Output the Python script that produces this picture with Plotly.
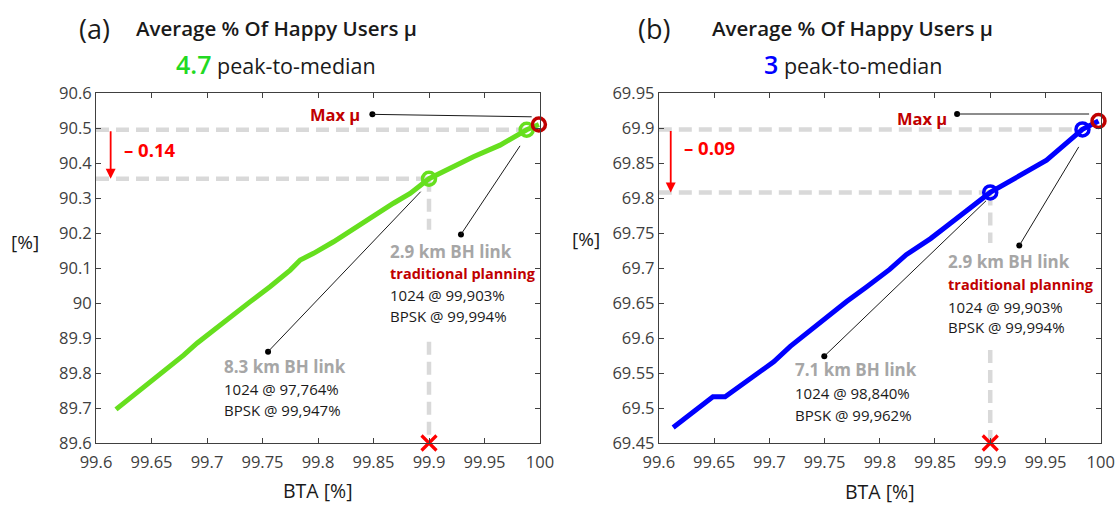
import plotly.graph_objects as go

W, H = 1119, 505
FONT = "Open Sans"

# ---- data -------------------------------------------------------------
# (a) average % of happy users vs BTA
bta_a = [99.618, 99.640, 99.659, 99.679, 99.691, 99.706, 99.724, 99.739, 99.757,
         99.775, 99.784, 99.796, 99.814, 99.832, 99.850, 99.868, 99.883, 99.900,
         99.940, 99.964, 99.988, 99.999]
mu_a = [89.696, 89.751, 89.799, 89.851, 89.885, 89.923, 89.966, 90.004, 90.047,
        90.094, 90.123, 90.142, 90.175, 90.213, 90.247, 90.285, 90.313, 90.355,
        90.418, 90.451, 90.495, 90.510]

# (b) average % of happy users vs BTA
bta_b = [99.613, 99.631, 99.649, 99.660, 99.669, 99.686, 99.704, 99.719, 99.734,
         99.752, 99.770, 99.788, 99.809, 99.824, 99.846, 99.864, 99.882, 99.900,
         99.951, 99.9835, 99.998]
mu_b = [69.472, 69.493, 69.516, 69.516, 69.526, 69.545, 69.566, 69.588, 69.607,
        69.630, 69.652, 69.673, 69.698, 69.719, 69.742, 69.764, 69.785, 69.808,
        69.854, 69.898, 69.910]

# highlighted operating points: (BTA, mu)
peak_a, trad_a, sel_a = (99.999, 90.510), (99.988, 90.495), (99.900, 90.355)
peak_b, trad_b, sel_b = (99.998, 69.910), (99.9835, 69.898), (99.900, 69.808)

peak_to_median = ["4.7", "3"]
sel_label_a = ["8.3 km BH link", "1024 @ 97,764%", "BPSK @ 99,947%"]
sel_label_b = ["7.1 km BH link", "1024 @ 98,840%", "BPSK @ 99,962%"]
trad_label = ["2.9 km BH link", "traditional planning", "1024 @ 99,903%", "BPSK @ 99,994%"]

x_ticks = [99.6, 99.65, 99.7, 99.75, 99.8, 99.85, 99.9, 99.95, 100]
x_ticktext = ["99.6", "99.65", "99.7", "99.75", "99.8", "99.85", "99.9", "99.95", "100"]
y_ticks_a = [89.6, 89.7, 89.8, 89.9, 90.0, 90.1, 90.2, 90.3, 90.4, 90.5, 90.6]
y_ticktext_a = ["89.6", "89.7", "89.8", "89.9", "90", "90.1", "90.2", "90.3", "90.4", "90.5", "90.6"]
y_ticks_b = [69.45, 69.5, 69.55, 69.6, 69.65, 69.7, 69.75, 69.8, 69.85, 69.9, 69.95]
y_ticktext_b = ["69.45", "69.5", "69.55", "69.6", "69.65", "69.7", "69.75", "69.8", "69.85", "69.9", "69.95"]

# ---- styles -----------------------------------------------------------
GREEN = "#66DF1E"
GREEN_TXT = "#22D922"
BLUE = "#0000FF"
DARKRED = "#C00000"
RED = "#FF0000"
GREY_TXT = "#A6A6A6"
DASH_COL = "#D9D9D9"
AXIS_COL = "#404040"
INK = "#1A1A1A"

fig = go.Figure()


def px2paper(px, py):
    return px / W, 1 - py / H


def add_panel(xs, ys, peak, trad, sel, color, xa, ya):
    fig.add_trace(go.Scatter(x=xs, y=ys, mode="lines", xaxis=xa, yaxis=ya,
                             line=dict(color=color, width=5), hoverinfo="skip"))
    fig.add_trace(go.Scatter(x=[trad[0], sel[0]], y=[trad[1], sel[1]], mode="markers",
                             xaxis=xa, yaxis=ya, hoverinfo="skip",
                             marker=dict(symbol="circle-open", size=13, color=color,
                                         line=dict(width=3.5, color=color))))
    fig.add_trace(go.Scatter(x=[peak[0]], y=[peak[1]], mode="markers", xaxis=xa, yaxis=ya,
                             hoverinfo="skip", cliponaxis=False,
                             marker=dict(symbol="circle-open", size=13, color=DARKRED,
                                         line=dict(width=3.5, color=DARKRED))))


def dashed(xa, ya, x0, y0, x1, y1):
    fig.add_shape(type="line", xref=xa, yref=ya, x0=x0, y0=y0, x1=x1, y1=y1,
                  layer="below", line=dict(color=DASH_COL, width=4.5, dash="13px,7px"))


def leader(xa, ya, x0, y0, x1, y1):
    fig.add_shape(type="line", xref=xa, yref=ya, x0=x0, y0=y0, x1=x1, y1=y1,
                  line=dict(color=INK, width=1))
    fig.add_trace(go.Scatter(x=[x0], y=[y0], mode="markers", xaxis=xa, yaxis=ya,
                             hoverinfo="skip", marker=dict(size=6, color="black")))


def label(xa, ya, x, y, text, size, color, bold=False, xanchor="left"):
    fig.add_annotation(xref=xa, yref=ya, x=x, y=y, text=text, showarrow=False,
                       xanchor=xanchor, yanchor="middle",
                       font=dict(family=FONT, size=size, color=color,
                                 weight="bold" if bold else "normal"))


def text_block(xa, ya, x, ys, lines, colors, bolds, sizes):
    for yy, t, c, b, s in zip(ys, lines, colors, bolds, sizes):
        label(xa, ya, x, yy, t, s, c, b)


# ---- panel (a) --------------------------------------------------------
dashed("x", "y", 99.6, trad_a[1], trad_a[0], trad_a[1])
dashed("x", "y", 99.6, sel_a[1], sel_a[0], sel_a[1])
dashed("x", "y", sel_a[0], sel_a[1], sel_a[0], 90.209)
dashed("x", "y", sel_a[0], 89.889, sel_a[0], 89.6)
add_panel(bta_a, mu_a, peak_a, trad_a, sel_a, GREEN, "x", "y")
leader("x", "y", 99.849, 90.539, 99.9925, 90.532)
leader("x", "y", 99.9288, 90.196, 99.982, 90.449)
leader("x", "y", 99.755, 89.861, 99.8925, 90.318)

# ---- panel (b) --------------------------------------------------------
dashed("x2", "y2", 99.6, trad_b[1], trad_b[0], trad_b[1])
dashed("x2", "y2", 99.6, sel_b[1], sel_b[0], sel_b[1])
dashed("x2", "y2", sel_b[0], sel_b[1], sel_b[0], 69.7357)
dashed("x2", "y2", sel_b[0], 69.5829, sel_b[0], 69.45)
add_panel(bta_b, mu_b, peak_b, trad_b, sel_b, BLUE, "x2", "y2")
leader("x2", "y2", 99.870, 69.920, 99.9895, 69.920)
leader("x2", "y2", 99.9263, 69.732, 99.9801, 69.873)
leader("x2", "y2", 99.7498, 69.574, 99.8962, 69.796)

# red crosses at BTA = 99.9 on the x axis
for xa, ya, y0 in (("x", "y", 89.6), ("x2", "y2", 69.45)):
    fig.add_trace(go.Scatter(x=[99.9], y=[y0], mode="markers", xaxis=xa, yaxis=ya,
                             cliponaxis=False, hoverinfo="skip",
                             marker=dict(symbol="x-thin", size=15,
                                         line=dict(width=3.2, color=RED))))

# ---- annotations ------------------------------------------------------
trad_colors = [GREY_TXT, DARKRED, INK, INK]
trad_bolds = [True, True, False, False]
trad_sizes = [17, 14.5, 15, 15]
sel_colors = [GREY_TXT, INK, INK]
sel_bolds = [True, False, False]
sel_sizes = [17, 15, 15]

text_block("x", "y", 99.8633, [90.1466, 90.0849, 90.0229, 89.9629],
           trad_label, trad_colors, trad_bolds, trad_sizes)
text_block("x", "y", 99.7132, [89.82, 89.7534, 89.6943],
           sel_label_a, sel_colors, sel_bolds, sel_sizes)
text_block("x2", "y2", 99.860, [69.709, 69.6767, 69.6447, 69.6161],
           trad_label, trad_colors, trad_bolds, trad_sizes)
text_block("x2", "y2", 99.7217, [69.5543, 69.521, 69.490],
           sel_label_b, sel_colors, sel_bolds, sel_sizes)

label("x", "y", 99.8394, 90.539, "Max μ", 16.5, DARKRED, True, "right")
label("x2", "y2", 99.863, 69.9139, "Max μ", 16.5, DARKRED, True, "right")

# drop from traditional planning to the selected point
for xa, ya, xarr, top, bot, xt, yt in (
        ("x", "y", 99.6132, trad_a[1], sel_a[1], 99.6232, 90.439),
        ("x2", "y2", 99.6108, trad_b[1], sel_b[1], 99.6207, 69.8724)):
    fig.add_annotation(xref=xa, yref=ya, axref=xa, ayref=ya, x=xarr, y=bot,
                       ax=xarr, ay=top, showarrow=True, arrowhead=2, arrowsize=1.1,
                       arrowwidth=1.8, arrowcolor=RED, text="")
    label(xa, ya, xt, yt, "\u2013 " + f"{top - bot:.2f}", 18.5, RED, True)

# titles
for cx, lab in ((94, "(a)"), (654, "(b)")):
    px, py = px2paper(cx, 28)
    fig.add_annotation(xref="paper", yref="paper", x=px, y=py, text=lab, showarrow=False,
                       xanchor="center", yanchor="middle",
                       font=dict(family=FONT, size=27, color=INK))
for cx in (276, 852.5):
    px, py = px2paper(cx, 28)
    fig.add_annotation(xref="paper", yref="paper", x=px, y=py,
                       text="Average % Of Happy Users μ", showarrow=False,
                       xanchor="center", yanchor="middle",
                       font=dict(family=FONT, size=20.5, color=INK, weight=600))
for cx, val, col in ((275.5, peak_to_median[0], GREEN_TXT), (853.4, peak_to_median[1], BLUE)):
    px, py = px2paper(cx, 64)
    fig.add_annotation(xref="paper", yref="paper", x=px, y=py,
                       text=f"<span style='color:{col};font-weight:600;font-size:25px'>{val}</span> peak-to-median",
                       showarrow=False, xanchor="center", yanchor="middle",
                       font=dict(family=FONT, size=21.5, color=INK))

# axis titles
for cx, cy, t, s in ((318, 490, "BTA [%]", 19.5), (880, 491, "BTA [%]", 19.5),
                     (25, 242, "[%]", 19), (586, 239, "[%]", 19)):
    px, py = px2paper(cx, cy)
    fig.add_annotation(xref="paper", yref="paper", x=px, y=py, text=t, showarrow=False,
                       xanchor="center", yanchor="middle",
                       font=dict(family=FONT, size=s, color=INK))

# ---- axes ---------------------------------------------------------------
axis_common = dict(showline=True, linecolor=AXIS_COL, linewidth=1, mirror="ticks",
                   ticks="inside", ticklen=5, tickcolor=AXIS_COL, showgrid=False,
                   zeroline=False, automargin=False,
                   tickfont=dict(family=FONT, size=16.5, color=AXIS_COL))
x_extra = dict(ticklabelstandoff=4)
y_dom = [1 - 443 / H, 1 - 93 / H]

fig.update_layout(
    template="none",
    width=W, height=H, showlegend=False,
    margin=dict(l=0, r=0, t=0, b=0, autoexpand=False),
    paper_bgcolor="white", plot_bgcolor="white",
    xaxis=dict(domain=[96 / W, 540 / W], range=[99.6, 100], anchor="y",
               tickvals=x_ticks, ticktext=x_ticktext, **axis_common, **x_extra),
    yaxis=dict(domain=y_dom, range=[89.6, 90.6], anchor="x",
               tickvals=y_ticks_a, ticktext=y_ticktext_a, **axis_common),
    xaxis2=dict(domain=[658.8 / W, 1100.7 / W], range=[99.6, 100], anchor="y2",
                tickvals=x_ticks, ticktext=x_ticktext, **axis_common, **x_extra),
    yaxis2=dict(domain=y_dom, range=[69.45, 69.95], anchor="x2",
                tickvals=y_ticks_b, ticktext=y_ticktext_b, **axis_common),
)

fig.write_html("out.html")
